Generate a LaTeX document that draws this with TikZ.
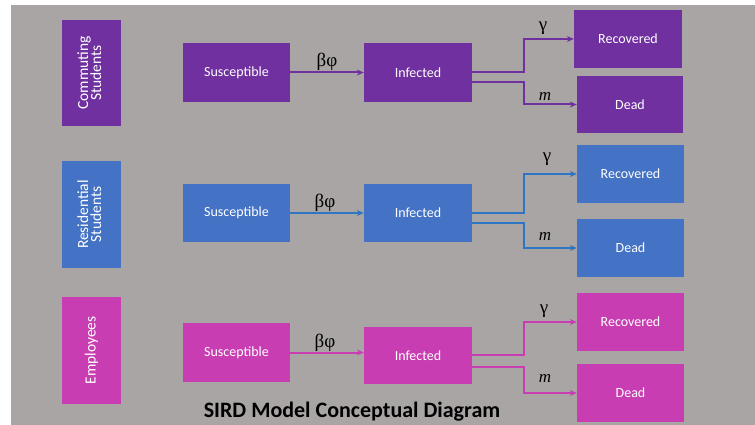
\documentclass[tikz,border=0pt]{standalone}
\usepackage{fontspec}
\setmainfont{Carlito}
\newfontfamily\greekfont{Liberation Serif}
\usetikzlibrary{arrows.meta,calc}
\definecolor{bggray}{RGB}{169,165,164}
\definecolor{cpurple}{RGB}{112,48,160}
\definecolor{cblue}{RGB}{68,114,196}
\definecolor{cblueline}{RGB}{46,117,196}
\definecolor{cmagenta}{RGB}{200,62,178}
\tikzset{
  box/.style={draw=none, fill=#1, text=white, inner sep=0pt,
    font=\fontsize{14}{15}\selectfont, align=center},
  grpbox/.style={box=#1, minimum width=59pt, minimum height=107pt,
    font=\fontsize{15.5}{16}\selectfont},
  stbox/.style={box=#1, minimum width=107pt, minimum height=58pt},
  flow/.style={draw=#1, line width=2pt, -{Stealth[length=7pt,width=6pt]}},
  rate/.style={text=black, font=\greekfont\fontsize{19}{19}\selectfont, inner sep=0pt},
  mrate/.style={text=black, font=\greekfont\itshape\fontsize{17}{17}\selectfont, inner sep=0pt}
}
\begin{document}
\begin{tikzpicture}[x=1pt,y=-1pt]
\useasboundingbox (0,0) rectangle (755,425);
\fill[white] (0,0) rectangle (755,425);
\fill[bggray] (11,5) rectangle (755,425);

% Row 1: commuting students (purple)
\node[grpbox=cpurple, minimum height=106pt] (g1) at (91.5,73) {\rotatebox{90}{\begin{tabular}{@{}c@{}}Commuting\\[-3pt]Students\end{tabular}}};
\node[stbox=cpurple, minimum height=59pt] (s1) at (236.5,72.5) {Susceptible};
\node[stbox=cpurple, minimum width=108pt, minimum height=59pt] (i1) at (418,72.5) {Infected};
\node[stbox=cpurple, minimum width=108pt] (r1) at (628,39) {Recovered};
\node[stbox=cpurple, minimum width=106pt, minimum height=57pt] (d1) at (630,104.5) {Dead};
\draw[flow=cpurple] (s1.east) -- (i1.west);
\draw[flow=cpurple] (i1.east) -- ++(52,0) |- (r1.west);
\draw[flow=cpurple] ([yshift=-10pt]i1.east) -- ++(52,0) |- (d1.west);
\node[rate] (b1) at (327,62) {βφ};
\node[rate] (gm1) at (543,28) {γ};
\node[mrate] (m1) at (545,96) {m};

% Row 2: residential students (blue)
\node[grpbox=cblue] (g2) at (91.5,214.5) {\rotatebox{90}{\begin{tabular}{@{}c@{}}Residential\\[-3pt]Students\end{tabular}}};
\node[stbox=cblue] (s2) at (236.5,213) {Susceptible};
\node[stbox=cblue, minimum width=108pt] (i2) at (418,213) {Infected};
\node[stbox=cblue] (r2) at (630.5,174) {Recovered};
\node[stbox=cblue] (d2) at (630.5,248) {Dead};
\draw[flow=cblueline] (s2.east) -- (i2.west);
\draw[flow=cblueline] (i2.east) -- ++(52,0) |- (r2.west);
\draw[flow=cblueline] ([yshift=-10pt]i2.east) -- ++(52,0) |- (d2.west);
\node[rate] (b2) at (325,203) {βφ};
\node[rate] (gm2) at (547,159) {γ};
\node[mrate] (m2) at (545,236) {m};

% Row 3: employees (magenta)
\node[grpbox=cmagenta] (g3) at (91.5,350.5) {\rotatebox{90}{Employees}};
\node[stbox=cmagenta, minimum height=59pt] (s3) at (236.5,352.5) {Susceptible};
\node[stbox=cmagenta, minimum width=108pt, minimum height=57pt] (i3) at (418,355.5) {Infected};
\node[stbox=cmagenta] (r3) at (630.5,322) {Recovered};
\node[stbox=cmagenta] (d3) at (630.5,393) {Dead};
\draw[flow=cmagenta] (s3.east) -- (s3.east -| i3.west);
\draw[flow=cmagenta] ([yshift=1pt]i3.east) -- ++(52,0) |- (r3.west);
\draw[flow=cmagenta] ([yshift=-11pt]i3.east) -- ++(52,0) |- (d3.west);
\node[rate] (b3) at (325,343) {βφ};
\node[rate] (gm3) at (544,311) {γ};
\node[mrate] (m3) at (545,378) {m};

% Title
\node[text=black, font=\bfseries\fontsize{22}{22}\selectfont, inner sep=0pt] (title) at (352,412) {SIRD Model Conceptual Diagram};
\end{tikzpicture}
\end{document}
